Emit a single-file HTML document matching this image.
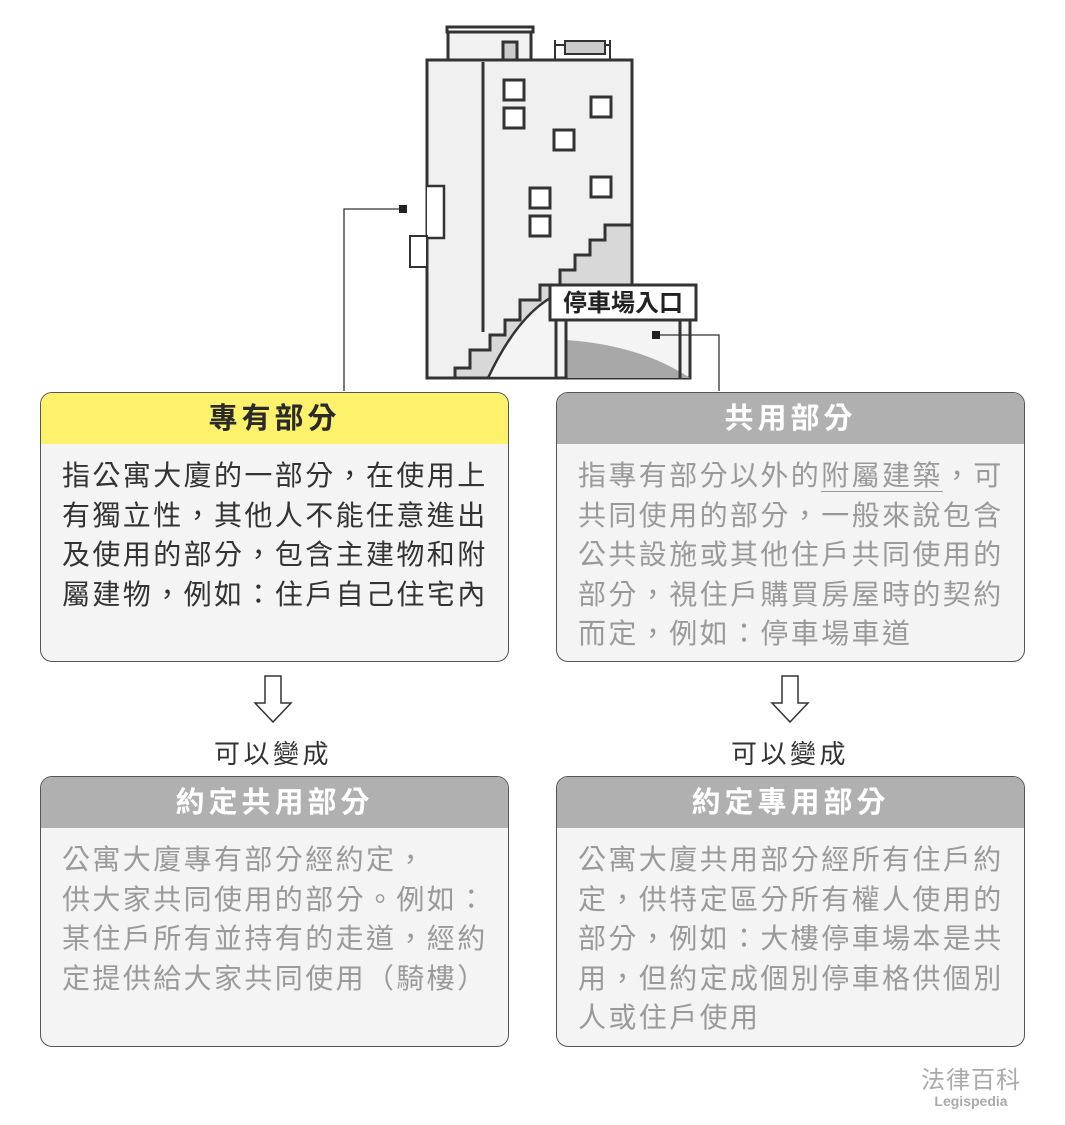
<!DOCTYPE html>
<html><head><meta charset="utf-8"><style>
body{margin:0;width:1065px;height:1125px;background:#fff;position:relative;font-family:"Liberation Sans","Noto Sans CJK TC",sans-serif;overflow:hidden}
.box{position:absolute;border:1.5px solid #555;border-radius:12px;overflow:hidden;background:#f4f4f4;box-sizing:border-box}
.hd{height:51px;line-height:53px;text-align:center;font-size:29px;font-weight:bold;letter-spacing:4px;color:#fff;background:#b0b0b0}
.bd{padding:12px 0 0 21px;width:440px;font-size:28px;line-height:39.5px;color:#9a9a9a;letter-spacing:2.4px}
.lbl{position:absolute;font-size:26px;color:#333;width:200px;text-align:center;letter-spacing:3.5px}
</style></head><body>
<svg width="1065" height="1125" style="position:absolute;left:0;top:0">
<g stroke="#333" stroke-width="3" fill="none">
<rect x="447" y="27" width="86" height="5" fill="#fff"/>
<rect x="448" y="32" width="83" height="28" fill="#f2f2f2"/>
<rect x="503" y="42" width="14" height="18" fill="#ccc"/>
<path d="M555 60 V40 M610 60 V40 M555 45 H610" stroke-width="2"/>
<path d="M565 41 H605 V54 H565 Z" fill="#ccc" stroke-width="2"/>
<path d="M427 60 H632 V378 H427 Z" fill="#f0f0f0"/>
<line x1="483" y1="62" x2="483" y2="332"/>
<path d="M632 225 L632 378 L455 378 L455 368 L470 368 V350 L490 350 V335 L505 335 V320 L520 320 V300 L540 300 V285 L560 285 V270 L575 270 V255 L590 255 V240 L605 240 V225 L632 225 Z" fill="#d8d8d8"/>
<g fill="#fff">
<rect x="504" y="80" width="20" height="20"/><rect x="504" y="108" width="20" height="20"/>
<rect x="591" y="97" width="20" height="20"/><rect x="554" y="130" width="20" height="20"/>
<rect x="591" y="177" width="20" height="20"/><rect x="530" y="188" width="20" height="20"/>
<rect x="530" y="216" width="20" height="20"/></g>
<path d="M427 186 H444 V238 H427" fill="#fff" stroke-width="2.5"/>
<rect x="410" y="236" width="17" height="31" fill="#fff" stroke-width="2"/>
<path d="M488 378 Q520 310 560 293 L560 378 Z" fill="#f4f4f4" stroke-width="2.5"/>
<rect x="556" y="318" width="134" height="60" fill="#f4f4f4"/>
<path d="M566 340 Q640 345 690 378 L566 378 Z" fill="#a8a8a8" stroke-width="0"/>
<line x1="566" y1="318" x2="566" y2="378"/><line x1="680" y1="318" x2="680" y2="378"/>
<rect x="550" y="285" width="146" height="35" fill="#fff"/>
</g>
<text x="623" y="311" font-size="24" font-weight="bold" text-anchor="middle" fill="#222" font-family="Liberation Sans,Noto Sans CJK TC,sans-serif">停車場入口</text>
<g stroke="#333" stroke-width="1.3" fill="none">
<path d="M344 391 V209 H403"/><path d="M719 391 V335 H656"/>
</g>
<rect x="399" y="205" width="8" height="8" fill="#222"/>
<rect x="652" y="331" width="8" height="8" fill="#222"/>
<g stroke="#333" stroke-width="1.5" fill="#fff">
<path d="M265 676 H281 V703 H291 L273 722 L255 703 H265 Z"/>
<path d="M782 676 H798 V703 H808 L790 722 L772 703 H782 Z"/>
</g>
</svg>
<div class="box" style="left:40px;top:392px;width:469px;height:270px">
<div class="hd" style="background:#fef16b;color:#2a2a2a">專有部分</div>
<div class="bd" style="color:#333">指公寓大廈的一部分，在使用上有獨立性，其他人不能任意進出及使用的部分，包含主建物和附屬建物，例如：住戶自己住宅內</div></div>
<div class="box" style="left:556px;top:392px;width:469px;height:270px">
<div class="hd">共用部分</div>
<div class="bd">指專有部分以外的<span style="border-bottom:1px solid #999">附屬建築</span>，可共同使用的部分，一般來說包含公共設施或其他住戶共同使用的部分，視住戶購買房屋時的契約而定，例如：停車場車道</div></div>
<div class="lbl" style="left:173px;top:734px">可以變成</div>
<div class="lbl" style="left:690px;top:734px">可以變成</div>
<div class="box" style="left:40px;top:776px;width:469px;height:271px">
<div class="hd">約定共用部分</div>
<div class="bd">公寓大廈專有部分經約定，<br>供大家共同使用的部分。例如：某住戶所有並持有的走道，經約定提供給大家共同使用（騎樓）</div></div>
<div class="box" style="left:556px;top:776px;width:469px;height:271px">
<div class="hd">約定專用部分</div>
<div class="bd">公寓大廈共用部分經所有住戶約定，供特定區分所有權人使用的部分，例如：大樓停車場本是共用，但約定成個別停車格供個別人或住戶使用</div></div>
<div style="position:absolute;left:915px;top:1060px;width:112px;text-align:center;color:#aaa;font-size:24px;letter-spacing:1px">法律百科</div>
<div style="position:absolute;left:915px;top:1093px;width:112px;text-align:center;color:#aaa;font-size:14px;font-weight:bold">Legispedia</div>
</body></html>
